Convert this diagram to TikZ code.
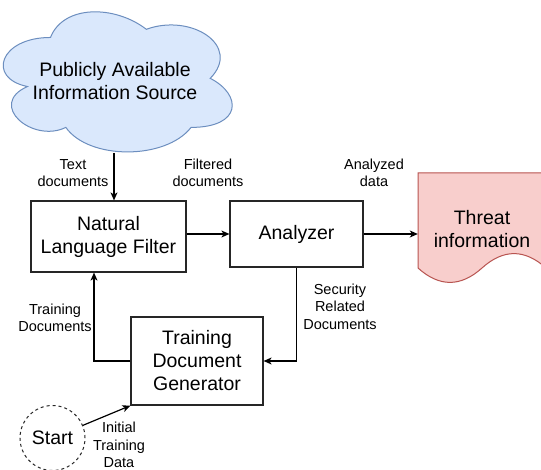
\documentclass[tikz,border=0pt]{standalone}
\usepackage{fontspec}
\setmainfont{Liberation Sans}
\usetikzlibrary{arrows.meta,calc}
\definecolor{cloudfill}{HTML}{DAE8FC}
\definecolor{cloudline}{HTML}{6C8EBF}
\definecolor{docfill}{HTML}{F8CECC}
\definecolor{docline}{HTML}{B85450}
\tikzset{
  box/.style={draw=black!85, line width=1.2pt, fill=white, inner sep=0pt, align=center,
    font=\fontsize{19.5}{23}\selectfont},
  lbl/.style={align=center, inner sep=0pt, font=\fontsize{14.5}{17.5}\selectfont},
  arr/.style={line width=1.2pt, -{Stealth[length=8pt,width=7pt,inset=2.2pt]}},
}
\begin{document}
\begin{tikzpicture}[x=1pt,y=1pt]
\useasboundingbox (0,0) rectangle (541,-470);
\clip (0,0) rectangle (541,-470);
\fill[white] (0,0) rectangle (541,-470);
% cloud (drawio cloud shape, box x0=-13.4, y0=-3.4, w=255.6, h=163.5)
\begin{scope}[shift={(-13.4,3.4)}, x=255.6pt, y=-163.5pt]
\draw[fill=cloudfill, draw=cloudline, line width=1pt]
  (0.25,0.25) .. controls (0.05,0.25) and (0,0.5) .. (0.16,0.55)
  .. controls (0,0.66) and (0.18,0.9) .. (0.31,0.8)
  .. controls (0.4,1) and (0.7,1) .. (0.8,0.8)
  .. controls (1,0.8) and (1,0.6) .. (0.875,0.5)
  .. controls (1,0.3) and (0.8,0.1) .. (0.625,0.2)
  .. controls (0.5,0.05) and (0.3,0.05) .. (0.25,0.25) -- cycle;
\end{scope}
\node[align=center, inner sep=0pt, font=\fontsize{19.5}{23}\selectfont] (cloud) at (115,-81)
  {Publicly Available\\Information Source};
\coordinate (cloudb) at (114,-153);
% boxes
\node[box, minimum width=155pt, minimum height=71pt] (nlf) at (108.5,-236.5) {Natural\\Language Filter};
\node[box, minimum width=133pt, minimum height=66pt] (ana) at (296.5,-234) {Analyzer};
\node[box, minimum width=132pt, minimum height=88pt] (tdg) at (197,-361) {Training\\Document\\Generator};
\node[circle, draw=black!85, dashed, dash pattern=on 3pt off 3pt, line width=1pt, minimum size=65pt, inner sep=0pt,
  font=\fontsize{19.5}{23}\selectfont] (start) at (52.5,-438) {Start};
% threat document
\node[minimum width=128pt, minimum height=115pt, inner sep=0pt] (threat) at (482,-229) {};
\draw[fill=docfill, draw=docline, line width=1pt]
  (418,-173) -- (546,-173) -- (546,-268)
  .. controls (524.67,-248.8) and (503.33,-248.8) .. (482,-268)
  .. controls (460.67,-287.2) and (439.33,-287.2) .. (418,-268) -- cycle;
\node[align=center, inner sep=0pt, font=\fontsize{19.5}{23}\selectfont] (threattext) at (threat) {Threat\\information};
% connectors
\draw[arr] (cloudb) -- (cloudb |- nlf.north);
\draw[arr] (nlf.east |- ana.west) -- (ana.west);
\draw[arr] (ana.east) -- (ana.east -| threat.west);
\draw[arr] (ana.south) |- (tdg.east);
\draw[arr] (tdg.west) -| ([xshift=-14.5pt]nlf.south);
\draw[arr] (start) -- (tdg.south west);
% labels
\node[lbl] (l1) at (73,-173) {Text\\documents};
\node[lbl] (l2) at (208,-173) {Filtered\\documents};
\node[lbl] (l3) at (374,-173) {Analyzed\\data};
\node[lbl] (l4) at (55,-318) {Training\\Documents};
\node[lbl] (l5) at (340,-306.5) {Security\\Related\\Documents};
\node[lbl] (l6) at (119,-445) {Initial\\Training\\Data};
\end{tikzpicture}
\end{document}
